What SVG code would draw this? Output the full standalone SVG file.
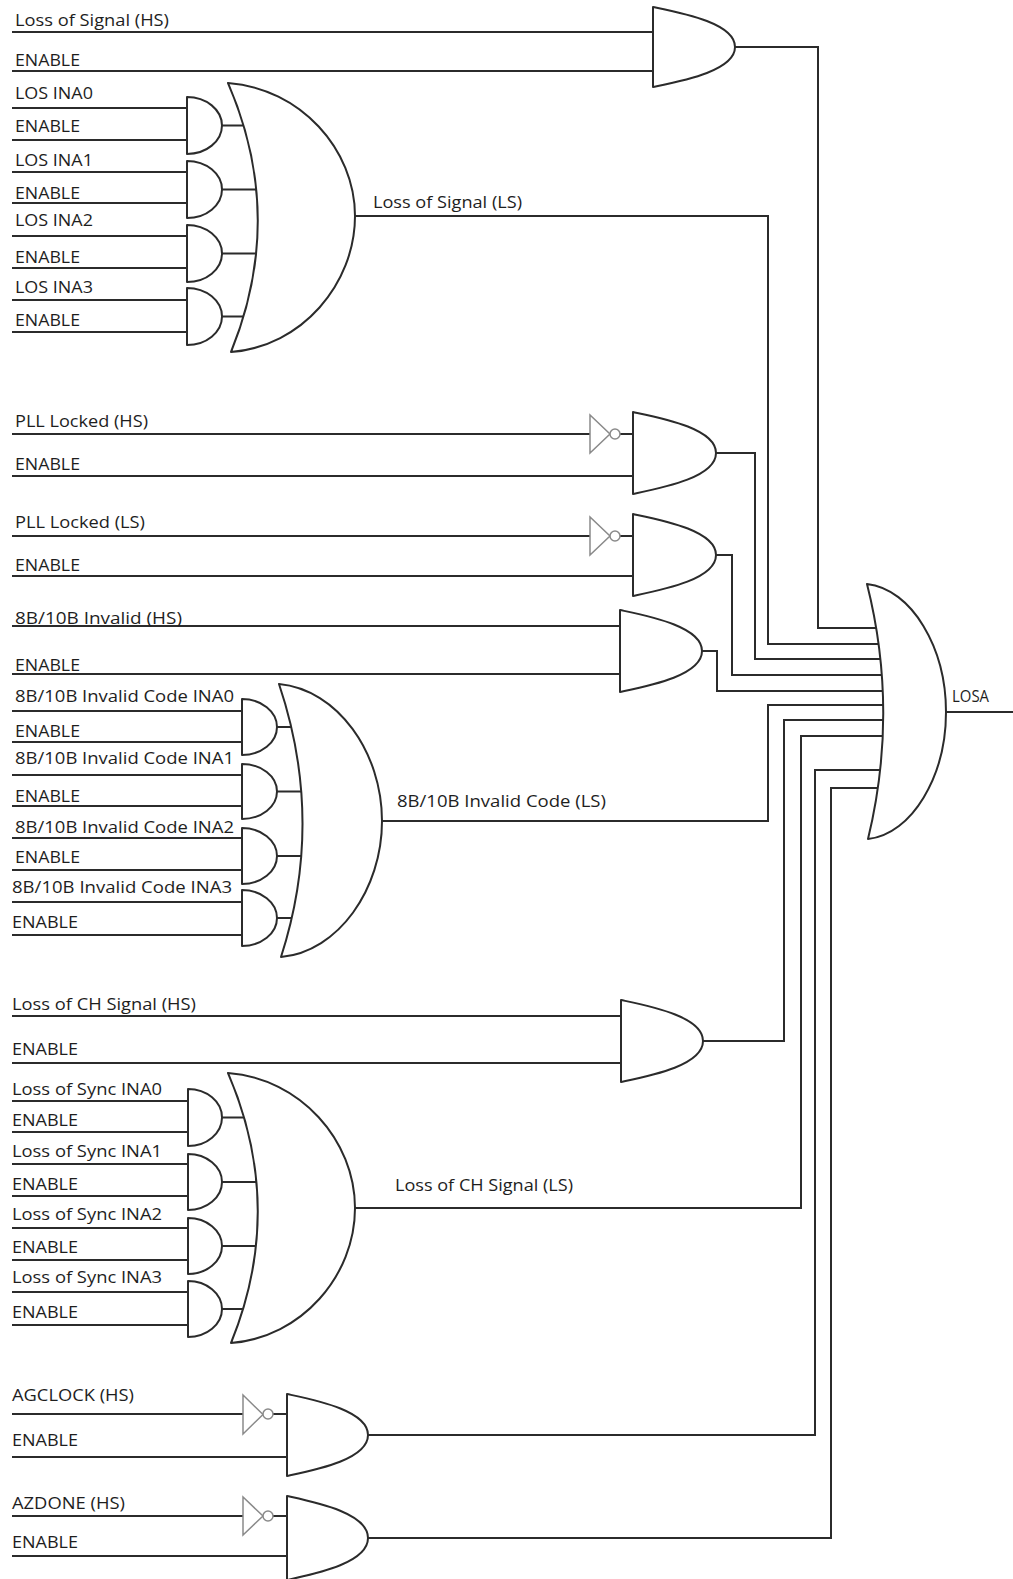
<svg xmlns="http://www.w3.org/2000/svg" width="1013" height="1579" viewBox="0 0 1013 1579">
<style>
.w{fill:none;stroke:#2b2b2b;stroke-width:2}
.g{fill:#fff;stroke:#2b2b2b;stroke-width:2;stroke-linejoin:round}
.inv{fill:#fff;stroke:#8a8a8a;stroke-width:1.5}
text{font-family:"Open Sans","Liberation Sans",sans-serif;font-size:17px;fill:#1e1e1e}
</style>
<rect width="1013" height="1579" fill="#fff"/>
<g id="connectors" class="w">
<!-- Loss of Signal (HS) -->
<path d="M12,32 H653 M12,71 H653"/>
<path d="M735,47 H818 V628 H890"/>
<!-- LOS group inputs -->
<path d="M12,108 H187 M12,140 H187 M12,172 H187 M12,203 H187 M12,236 H187 M12,268 H187 M12,300 H187 M12,332 H187"/>
<path d="M222,125.5 H265 M222,189.5 H270 M222,253.5 H270 M222,316.5 H265"/>
<path d="M355,216 H768 V644 H890"/>
<!-- PLL -->
<path d="M12,434 H590 M620,434 H633 M12,476 H633"/>
<path d="M716,453 H755 V659 H890"/>
<path d="M12,536 H590 M620,536 H633 M12,576 H633"/>
<path d="M716,555 H732 V675 H890"/>
<!-- 8B/10B HS -->
<path d="M12,626 H620 M12,674 H620"/>
<path d="M702,651 H717 V691 H890"/>
<!-- 8B/10B group -->
<path d="M12,711 H242 M12,742 H242 M12,775 H242 M12,806 H242 M12,838 H242 M12,870 H242 M12,902 H242 M12,935 H242"/>
<path d="M277,727 H315 M277,791.5 H320 M277,856 H320 M277,918 H315"/>
<path d="M382,821 H768 V705 H890"/>
<!-- CH HS -->
<path d="M12,1016 H621 M12,1063 H621"/>
<path d="M703,1041 H784 V720 H890"/>
<!-- Sync group -->
<path d="M12,1101 H188 M12,1132 H188 M12,1164 H188 M12,1196 H188 M12,1228 H188 M12,1260 H188 M12,1292 H188 M12,1325 H188"/>
<path d="M222,1117.5 H265 M222,1182 H270 M222,1246 H270 M222,1309 H265"/>
<path d="M355,1208 H801 V736 H890"/>
<!-- AGCLOCK / AZDONE -->
<path d="M12,1414 H243 M273,1414 H287 M12,1457 H287"/>
<path d="M368,1435 H815 V770 H890"/>
<path d="M12,1516 H243 M273,1516 H287 M12,1556 H287"/>
<path d="M368,1538 H831 V788 H890"/>
<!-- LOSA output -->
<path d="M946,712 H1013"/>
</g>
<g id="and-los-hs"><path class="g" d="M653,7 C681.7,13 735,23 735,47 C735,71 681.7,81 653,87 Z"/></g>
<g id="and-los-ina0"><path class="g" d="M187,97 A35,28.5 0 0 1 187,154 Z"/></g>
<g id="and-los-ina1"><path class="g" d="M187,161 A35,28.5 0 0 1 187,218 Z"/></g>
<g id="and-los-ina2"><path class="g" d="M187,225 A35,28.5 0 0 1 187,282 Z"/></g>
<g id="and-los-ina3"><path class="g" d="M187,288 A35,28.5 0 0 1 187,345 Z"/></g>
<g id="or-los-ls"><path class="g" d="M228,83 C300.4,88.3 355,149.5 355,216 C355,284 301.7,346.6 231,352 Q286,217 228,83 Z"/></g>
<g id="not-pll-hs"><polygon class="inv" points="590,415 590,453 610,434"/><circle class="inv" cx="615" cy="434" r="5"/></g>
<g id="and-pll-hs"><path class="g" d="M633,412 C662,418.2 716,428.4 716,453 C716,477.6 662,487.9 633,494 Z"/></g>
<g id="not-pll-ls"><polygon class="inv" points="590,517 590,555 610,536"/><circle class="inv" cx="615" cy="536" r="5"/></g>
<g id="and-pll-ls"><path class="g" d="M633,514 C662,520.2 716,530.4 716,555 C716,579.6 662,589.9 633,596 Z"/></g>
<g id="and-8b10b-hs"><path class="g" d="M620,610 C648.7,616.2 702,626.4 702,651 C702,675.6 648.7,685.9 620,692 Z"/></g>
<g id="and-8b10b-ina0"><path class="g" d="M242,699 A35,28 0 0 1 242,755 Z"/></g>
<g id="and-8b10b-ina1"><path class="g" d="M242,764 A35,27.5 0 0 1 242,819 Z"/></g>
<g id="and-8b10b-ina2"><path class="g" d="M242,828 A35,28 0 0 1 242,884 Z"/></g>
<g id="and-8b10b-ina3"><path class="g" d="M242,890 A35,28 0 0 1 242,946 Z"/></g>
<g id="or-8b10b-ls"><path class="g" d="M279,684 C337.7,689.5 382,752.5 382,821 C382,889 338.6,951.6 281,957 Q325,821 279,684 Z"/></g>
<g id="and-ch-hs"><path class="g" d="M621,1000 C649.7,1006.2 703,1016.4 703,1041 C703,1065.6 649.7,1075.9 621,1082 Z"/></g>
<g id="and-sync-ina0"><path class="g" d="M188,1089 A34,28.5 0 0 1 188,1146 Z"/></g>
<g id="and-sync-ina1"><path class="g" d="M188,1154 A34,28 0 0 1 188,1210 Z"/></g>
<g id="and-sync-ina2"><path class="g" d="M188,1218 A34,28 0 0 1 188,1274 Z"/></g>
<g id="and-sync-ina3"><path class="g" d="M188,1281 A34,28 0 0 1 188,1337 Z"/></g>
<g id="or-ch-ls"><path class="g" d="M228,1073 C300.4,1078.4 355,1140.5 355,1208 C355,1275.5 301.7,1337.6 231,1343 Q286,1208 228,1073 Z"/></g>
<g id="not-agclock"><polygon class="inv" points="243,1395 243,1434 263,1414.5"/><circle class="inv" cx="268" cy="1414" r="5"/></g>
<g id="and-agclock"><path class="g" d="M287,1394 C315.4,1400.2 368,1410.4 368,1435 C368,1459.6 315.4,1469.9 287,1476 Z"/></g>
<g id="not-azdone"><polygon class="inv" points="243,1497 243,1535 263,1516"/><circle class="inv" cx="268" cy="1516" r="5"/></g>
<g id="and-azdone"><path class="g" d="M287,1496 C315.4,1502.3 368,1512.8 368,1538 C368,1563.2 315.4,1573.7 287,1580 Z"/></g>
<g id="or-losa"><path class="g" d="M867,584 C912,589.1 946,648 946,712 C946,775.5 912.5,833.9 868,839 Q899,711 867,584 Z"/></g>
<g id="labels">
<text x="15" y="26" textLength="154" lengthAdjust="spacingAndGlyphs">Loss of Signal (HS)</text>
<text x="15" y="66" textLength="65" lengthAdjust="spacingAndGlyphs">ENABLE</text>
<text x="15" y="99" textLength="78" lengthAdjust="spacingAndGlyphs">LOS INA0</text>
<text x="15" y="132" textLength="65" lengthAdjust="spacingAndGlyphs">ENABLE</text>
<text x="15" y="166" textLength="78" lengthAdjust="spacingAndGlyphs">LOS INA1</text>
<text x="15" y="199" textLength="65" lengthAdjust="spacingAndGlyphs">ENABLE</text>
<text x="15" y="226" textLength="78" lengthAdjust="spacingAndGlyphs">LOS INA2</text>
<text x="15" y="263" textLength="65" lengthAdjust="spacingAndGlyphs">ENABLE</text>
<text x="15" y="293" textLength="78" lengthAdjust="spacingAndGlyphs">LOS INA3</text>
<text x="15" y="326" textLength="65" lengthAdjust="spacingAndGlyphs">ENABLE</text>
<text x="373" y="208" textLength="149" lengthAdjust="spacingAndGlyphs">Loss of Signal (LS)</text>
<text x="15" y="427" textLength="133" lengthAdjust="spacingAndGlyphs">PLL Locked (HS)</text>
<text x="15" y="470" textLength="65" lengthAdjust="spacingAndGlyphs">ENABLE</text>
<text x="15" y="528" textLength="130" lengthAdjust="spacingAndGlyphs">PLL Locked (LS)</text>
<text x="15" y="571" textLength="65" lengthAdjust="spacingAndGlyphs">ENABLE</text>
<text x="15" y="624" textLength="167" lengthAdjust="spacingAndGlyphs">8B/10B Invalid (HS)</text>
<text x="15" y="671" textLength="65" lengthAdjust="spacingAndGlyphs">ENABLE</text>
<text x="15" y="702" textLength="219" lengthAdjust="spacingAndGlyphs">8B/10B Invalid Code INA0</text>
<text x="15" y="737" textLength="65" lengthAdjust="spacingAndGlyphs">ENABLE</text>
<text x="15" y="764" textLength="219" lengthAdjust="spacingAndGlyphs">8B/10B Invalid Code INA1</text>
<text x="15" y="802" textLength="65" lengthAdjust="spacingAndGlyphs">ENABLE</text>
<text x="15" y="833" textLength="219" lengthAdjust="spacingAndGlyphs">8B/10B Invalid Code INA2</text>
<text x="15" y="863" textLength="65" lengthAdjust="spacingAndGlyphs">ENABLE</text>
<text x="12" y="893" textLength="220" lengthAdjust="spacingAndGlyphs">8B/10B Invalid Code INA3</text>
<text x="12" y="928" textLength="66" lengthAdjust="spacingAndGlyphs">ENABLE</text>
<text x="397" y="807" textLength="209" lengthAdjust="spacingAndGlyphs">8B/10B Invalid Code (LS)</text>
<text x="12" y="1010" textLength="184" lengthAdjust="spacingAndGlyphs">Loss of CH Signal (HS)</text>
<text x="12" y="1055" textLength="66" lengthAdjust="spacingAndGlyphs">ENABLE</text>
<text x="12" y="1095" textLength="150" lengthAdjust="spacingAndGlyphs">Loss of Sync INA0</text>
<text x="12" y="1126" textLength="66" lengthAdjust="spacingAndGlyphs">ENABLE</text>
<text x="12" y="1157" textLength="150" lengthAdjust="spacingAndGlyphs">Loss of Sync INA1</text>
<text x="12" y="1190" textLength="66" lengthAdjust="spacingAndGlyphs">ENABLE</text>
<text x="12" y="1220" textLength="150" lengthAdjust="spacingAndGlyphs">Loss of Sync INA2</text>
<text x="12" y="1253" textLength="66" lengthAdjust="spacingAndGlyphs">ENABLE</text>
<text x="12" y="1283" textLength="150" lengthAdjust="spacingAndGlyphs">Loss of Sync INA3</text>
<text x="12" y="1318" textLength="66" lengthAdjust="spacingAndGlyphs">ENABLE</text>
<text x="395" y="1191" textLength="178" lengthAdjust="spacingAndGlyphs">Loss of CH Signal (LS)</text>
<text x="12" y="1401" textLength="122" lengthAdjust="spacingAndGlyphs">AGCLOCK (HS)</text>
<text x="12" y="1446" textLength="66" lengthAdjust="spacingAndGlyphs">ENABLE</text>
<text x="12" y="1509" textLength="113" lengthAdjust="spacingAndGlyphs">AZDONE (HS)</text>
<text x="12" y="1548" textLength="66" lengthAdjust="spacingAndGlyphs">ENABLE</text>
<text x="952" y="702" textLength="37" lengthAdjust="spacingAndGlyphs">LOSA</text>
</g>
</svg>
